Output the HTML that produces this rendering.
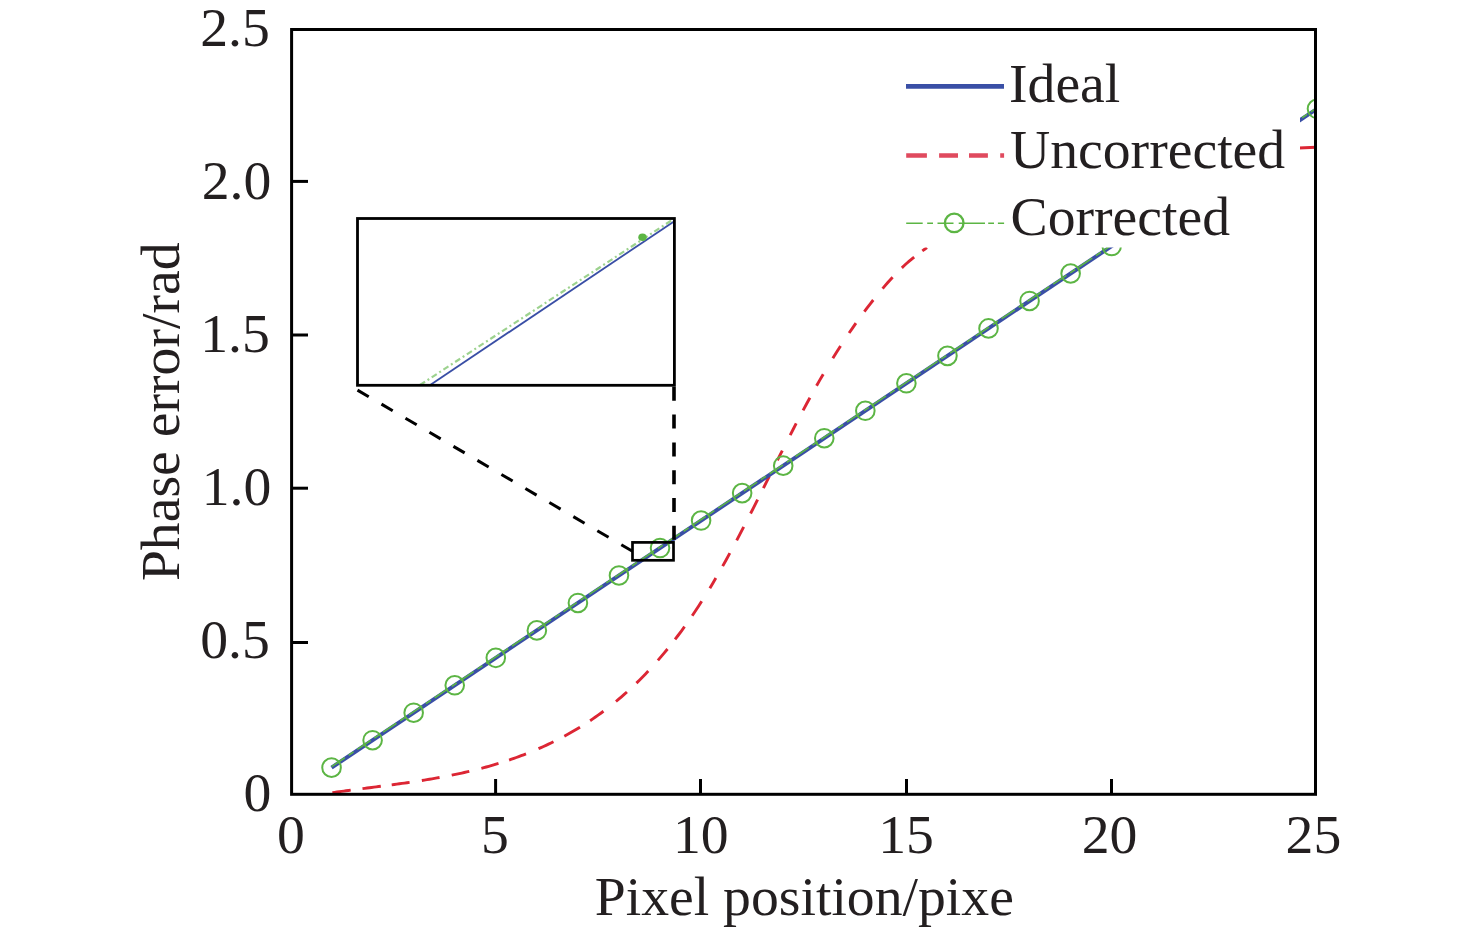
<!DOCTYPE html><html><head><meta charset="utf-8"><style>
html,body{margin:0;padding:0;background:#fff;width:1476px;height:933px;overflow:hidden}
svg{display:block}
text{font-family:"Liberation Serif",serif;fill:#231f20}
</style></head><body>
<svg width="1476" height="933" viewBox="0 0 1476 933">
<rect width="1476" height="933" fill="#fff"/>
<defs><clipPath id="pc"><rect x="291.5" y="29.5" width="1024" height="765"/></clipPath>
<clipPath id="ic"><rect x="357.5" y="218.5" width="316.9" height="166.8"/></clipPath></defs>

<text x="269.8" y="45.9" font-size="55.7" text-anchor="end">2.5</text>
<text x="271.3" y="198.9" font-size="55.7" text-anchor="end">2.0</text>
<text x="269.8" y="351.9" font-size="55.7" text-anchor="end">1.5</text>
<text x="271.3" y="504.9" font-size="55.7" text-anchor="end">1.0</text>
<text x="269.8" y="657.9" font-size="55.7" text-anchor="end">0.5</text>
<text x="271.3" y="810.9" font-size="55.7" text-anchor="end">0</text>
<text x="290.9" y="853.3" font-size="55.7" text-anchor="middle">0</text>
<text x="494.8" y="853.3" font-size="55.7" text-anchor="middle">5</text>
<text x="700.8" y="853.3" font-size="55.7" text-anchor="middle">10</text>
<text x="906.0" y="853.3" font-size="55.7" text-anchor="middle">15</text>
<text x="1109.6" y="853.3" font-size="55.7" text-anchor="middle">20</text>
<text x="1313.4" y="853.3" font-size="55.7" text-anchor="middle">25</text>
<text x="804.3" y="915.3" font-size="55.7" text-anchor="middle">Pixel position/pixe</text>
<text transform="translate(179.1,411.8) rotate(-90)" x="0" y="0" font-size="55.7" text-anchor="middle">Phase error/rad</text>
<g clip-path="url(#pc)">
<path d="M332.40,792.69 L334.69,792.36 L336.97,792.04 L339.26,791.72 L341.55,791.40 L343.84,791.09 L346.13,790.78 L348.41,790.47 L350.70,790.17 M362.49,788.63 L364.78,788.33 L367.07,788.04 L369.36,787.74 L371.65,787.45 L373.94,787.15 L376.23,786.86 L378.52,786.56 L380.81,786.26 M391.70,784.83 L394.26,784.49 L396.81,784.14 L399.37,783.79 L401.93,783.43 L404.49,783.07 L407.04,782.71 L409.60,782.34 M421.84,780.48 L424.37,780.08 L426.90,779.66 L429.43,779.24 L431.97,778.82 L434.50,778.38 L437.03,777.94 L439.56,777.48 M451.71,775.16 L454.22,774.65 L456.73,774.13 L459.24,773.59 L461.76,773.05 L464.27,772.49 L466.78,771.92 L469.29,771.33 M481.40,768.32 L483.84,767.67 L486.28,767.00 L488.73,766.32 L491.17,765.63 L493.62,764.92 L496.06,764.19 L498.50,763.45 M509.10,760.03 L511.51,759.20 L513.93,758.36 L516.34,757.50 L518.76,756.62 L521.17,755.72 L523.59,754.80 L526.00,753.87 M538.51,748.70 L541.01,747.60 L543.50,746.48 L546.00,745.33 L548.50,744.16 L550.99,742.97 L553.49,741.75 M564.32,736.17 L566.93,734.76 L569.54,733.31 L572.15,731.82 L574.76,730.31 L577.37,728.76 L579.98,727.18 M590.14,720.69 L592.80,718.89 L595.47,717.05 L598.13,715.17 L600.80,713.25 L603.46,711.29 M615.95,701.49 L618.70,699.19 L621.45,696.84 L624.20,694.44 L626.95,691.99 M636.43,683.10 L639.39,680.19 L642.35,677.21 L645.31,674.16 L648.27,671.05 M657.91,660.38 L661.10,656.67 L664.30,652.88 L667.49,648.99 M675.06,639.41 L678.22,635.25 L681.38,631.01 L684.54,626.66 M692.21,615.69 L695.37,611.01 L698.53,606.22 L701.69,601.32 M709.85,588.20 L712.85,583.19 L715.85,578.08 M722.67,566.14 L726.25,559.69 L729.83,553.14 M736.69,540.33 L740.20,533.64 L743.71,526.88 M750.59,513.49 L754.10,506.59 L757.61,499.65 M763.40,488.15 L766.40,482.17 L769.40,476.18 M777.39,460.27 L779.85,455.40 L782.31,450.54 M790.19,435.07 L793.20,429.22 L796.21,423.41 M803.08,410.38 L806.50,403.99 L809.92,397.69 M816.56,385.76 L819.90,379.90 L823.24,374.15 M832.83,358.20 L836.70,351.99 L840.57,345.92 M849.09,333.04 L852.50,328.06 L855.91,323.19 M864.35,311.57 L867.32,307.63 L870.28,303.77 L873.25,299.99 M882.59,288.58 L885.09,285.65 L887.60,282.77 L890.11,279.97 L892.61,277.23 M901.85,267.82 L904.31,265.52 L906.77,263.29 L909.23,261.14 L911.69,259.07 L914.15,257.07 M922.30,250.91 L924.65,249.25 L927.00,247.64 M1299,148 L1320,147" fill="none" stroke="#dc2634" stroke-width="2.9"/>
<line x1="331.55" y1="767.64" x2="1316.99" y2="108.79" stroke="#3a4fa6" stroke-width="4"/>
<line x1="331.55" y1="766.64" x2="1316.99" y2="107.79" stroke="#5cb544" stroke-width="1.6" stroke-dasharray="16 4.5 6 4.5"/>
<circle cx="331.55" cy="767.64" r="9.3" fill="none" stroke="#5cb544" stroke-width="2.0"/>
<circle cx="372.61" cy="740.19" r="9.3" fill="none" stroke="#5cb544" stroke-width="2.0"/>
<circle cx="413.67" cy="712.73" r="9.3" fill="none" stroke="#5cb544" stroke-width="2.0"/>
<circle cx="454.73" cy="685.28" r="9.3" fill="none" stroke="#5cb544" stroke-width="2.0"/>
<circle cx="495.79" cy="657.83" r="9.3" fill="none" stroke="#5cb544" stroke-width="2.0"/>
<circle cx="536.85" cy="630.38" r="9.3" fill="none" stroke="#5cb544" stroke-width="2.0"/>
<circle cx="577.91" cy="602.93" r="9.3" fill="none" stroke="#5cb544" stroke-width="2.0"/>
<circle cx="618.97" cy="575.47" r="9.3" fill="none" stroke="#5cb544" stroke-width="2.0"/>
<circle cx="660.03" cy="548.02" r="9.3" fill="none" stroke="#5cb544" stroke-width="2.0"/>
<circle cx="701.09" cy="520.57" r="9.3" fill="none" stroke="#5cb544" stroke-width="2.0"/>
<circle cx="742.15" cy="493.12" r="9.3" fill="none" stroke="#5cb544" stroke-width="2.0"/>
<circle cx="783.21" cy="465.67" r="9.3" fill="none" stroke="#5cb544" stroke-width="2.0"/>
<circle cx="824.27" cy="438.21" r="9.3" fill="none" stroke="#5cb544" stroke-width="2.0"/>
<circle cx="865.33" cy="410.76" r="9.3" fill="none" stroke="#5cb544" stroke-width="2.0"/>
<circle cx="906.39" cy="383.31" r="9.3" fill="none" stroke="#5cb544" stroke-width="2.0"/>
<circle cx="947.45" cy="355.86" r="9.3" fill="none" stroke="#5cb544" stroke-width="2.0"/>
<circle cx="988.51" cy="328.41" r="9.3" fill="none" stroke="#5cb544" stroke-width="2.0"/>
<circle cx="1029.57" cy="300.95" r="9.3" fill="none" stroke="#5cb544" stroke-width="2.0"/>
<circle cx="1070.63" cy="273.50" r="9.3" fill="none" stroke="#5cb544" stroke-width="2.0"/>
<circle cx="1111.69" cy="246.05" r="9.3" fill="none" stroke="#5cb544" stroke-width="2.0"/>
<circle cx="1152.75" cy="218.60" r="9.3" fill="none" stroke="#5cb544" stroke-width="2.0"/>
<circle cx="1193.81" cy="191.15" r="9.3" fill="none" stroke="#5cb544" stroke-width="2.0"/>
<circle cx="1234.87" cy="163.69" r="9.3" fill="none" stroke="#5cb544" stroke-width="2.0"/>
<circle cx="1275.93" cy="136.24" r="9.3" fill="none" stroke="#5cb544" stroke-width="2.0"/>
<circle cx="1316.99" cy="108.79" r="9.3" fill="none" stroke="#5cb544" stroke-width="2.0"/>
</g>
<rect x="890" y="40" width="410" height="207.5" fill="#fff"/>
<line x1="906" y1="86.4" x2="1004" y2="86.4" stroke="#3a4fa6" stroke-width="4.8"/>
<text x="1009" y="101.5" font-size="55.7">Ideal</text>
<path d="M906.2,155.5 H926.9 M939.1,155.5 H958 M969,155.5 H987.9 M1000.2,155.5 H1004.1" stroke="#e04a5e" stroke-width="4.6"/>
<text x="1010" y="168.2" font-size="55.7">Uncorrected</text>
<path d="M906.2,223.3 H922.7 M927.2,223.3 H933 M937.5,223.3 H953.5 M958.7,223.3 H985 M988.2,223.3 H994 M997.9,223.3 H1004.1" stroke="#5cb544" stroke-width="1.4"/>
<circle cx="954.2" cy="222.9" r="9.3" fill="none" stroke="#5cb544" stroke-width="2.3"/>
<text x="1010.5" y="234.8" font-size="55.7">Corrected</text>
<rect x="291.6" y="29.5" width="1023.9" height="764.8" fill="none" stroke="#000" stroke-width="3"/>
<line x1="291.5" y1="181.4" x2="308" y2="181.4" stroke="#000" stroke-width="3"/>
<line x1="291.5" y1="335" x2="308" y2="335" stroke="#000" stroke-width="3"/>
<line x1="291.5" y1="488.2" x2="308" y2="488.2" stroke="#000" stroke-width="3"/>
<line x1="291.5" y1="642.5" x2="308" y2="642.5" stroke="#000" stroke-width="3"/>
<line x1="495.6" y1="794.3" x2="495.6" y2="779" stroke="#000" stroke-width="3"/>
<line x1="700.5" y1="794.3" x2="700.5" y2="779" stroke="#000" stroke-width="3"/>
<line x1="906.5" y1="794.3" x2="906.5" y2="779" stroke="#000" stroke-width="3"/>
<line x1="1111.5" y1="794.3" x2="1111.5" y2="779" stroke="#000" stroke-width="3"/>
<rect x="357.5" y="218.5" width="316.9" height="166.8" fill="#fff" stroke="none"/>
<g clip-path="url(#ic)">
<line x1="430.2" y1="385" x2="674" y2="221.4" stroke="#3a4fa6" stroke-width="1.8"/>
<line x1="420" y1="385" x2="674" y2="218.8" stroke="#5cb544" stroke-width="2.2" stroke-dasharray="6 3 2 3" opacity="0.6"/>
<ellipse cx="642.5" cy="237.3" rx="4.2" ry="3.8" fill="#5cb544"/>
</g>
<rect x="357.5" y="218.5" width="316.9" height="166.8" fill="none" stroke="#000" stroke-width="2.8"/>
<rect x="632.5" y="542.4" width="41" height="17.9" fill="none" stroke="#000" stroke-width="2.7"/>
<line x1="357.5" y1="390.1" x2="632.5" y2="551.3" stroke="#000" stroke-width="3" stroke-dasharray="13 14.8"/>
<line x1="674" y1="386.8" x2="674" y2="542" stroke="#000" stroke-width="3.6" stroke-dasharray="14 13.8"/>
</svg></body></html>
